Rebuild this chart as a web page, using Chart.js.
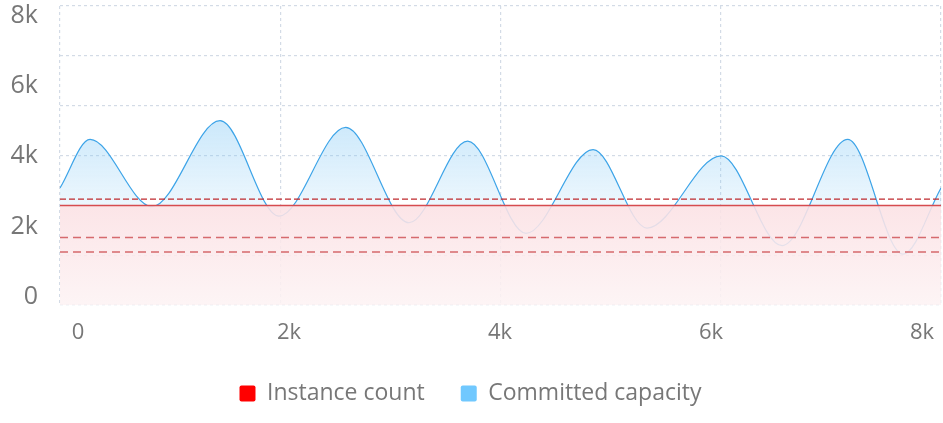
<!DOCTYPE html>
<html>
<head>
<meta charset="utf-8">
<script src="https://cdn.jsdelivr.net/npm/chart.js@4.4.1/dist/chart.umd.min.js"></script>
<style>
	html, body { margin: 0; padding: 0; background: #fff; }
	#wrap { width: 943px; height: 423px; position: relative; }
</style>
</head>
<body>
<div id="wrap"><canvas id="capacity-chart"></canvas></div>
<script>
//
// Data
//

var xValues = [-171, 114, 701, 1346, 1905, 2537, 3137, 3694, 4246, 4882, 5393, 6095, 6673, 7296, 7820, 8180];
var committedCapacity = [3100, 4480, 2570, 5010, 2300, 4820, 2110, 4430, 1810, 4190, 1960, 4010, 1460, 4480, 1220, 3100];
var instanceCount = [2600, 2600, 2600, 2600, 2600, 2600, 2600, 2600, 2600, 2600, 2600, 2600, 2600, 2600, 2600, 2600];
var thresholds = [2780, 1690, 1280];
var xTicks = [0, 2000, 4000, 6000, 8000];
var yTicks = [0, 2000, 4000, 6000, 8000];

var CapacityChart = (function() {

	//
	// Variables
	//

	var canvas = document.getElementById('capacity-chart');
	var xMin = -171, xMax = 8180;
	var yMin = -227, yMax = 8270;
	var font = { family: '"Open Sans", sans-serif', size: 23 };

	//
	// Methods
	//

	function points(values) {
		return values.map(function(v, i) { return { x: xValues[i], y: v }; });
	}

	function kLabel(v) {
		return v === 0 ? '0' : (v / 1000) + 'k';
	}

	// scales keep the chart area where we put it
	function fixBox(width, height) {
		return function(s) {
			if (width !== null) s.width = width;
			if (height !== null) s.height = height;
			s.paddingTop = s.paddingBottom = s.paddingLeft = s.paddingRight = 0;
		};
	}

	function capacityFill(context) {
		var chart = context.chart;
		if (!chart.chartArea) return 'rgba(130,200,245,0.3)';
		var y = chart.scales.y;
		var g = chart.ctx.createLinearGradient(0, y.getPixelForValue(5100), 0, y.getPixelForValue(2600));
		g.addColorStop(0, 'rgba(130,200,245,0.42)');
		g.addColorStop(1, 'rgba(130,200,245,0.15)');
		return g;
	}

	function instanceFill(context) {
		var chart = context.chart;
		var area = chart.chartArea;
		if (!area) return 'rgba(251,228,231,0.88)';
		var y = chart.scales.y;
		var g = chart.ctx.createLinearGradient(0, y.getPixelForValue(2600), 0, area.bottom);
		g.addColorStop(0, 'rgba(251,225,228,0.88)');
		g.addColorStop(1, 'rgba(253,243,244,0.88)');
		return g;
	}

	var thresholdStyles = [
		{ color: '#bf2a2e', dash: [6, 3], width: 1.2 },
		{ color: '#d66a6e', dash: [8, 5], width: 1.5 },
		{ color: '#d66a6e', dash: [8, 5], width: 1.5 }
	];

	var datasets = [{
		label: 'Instance count',
		legendColor: '#ff0000',
		data: points(instanceCount),
		borderColor: '#d64b4f',
		borderWidth: 1.3,
		backgroundColor: instanceFill,
		fill: 'start',
		pointRadius: 0,
		xAxisID: 'x',
		yAxisID: 'y',
		order: 1
	}, {
		label: 'Committed capacity',
		legendColor: '#70c8fe',
		data: points(committedCapacity),
		borderColor: '#3da4e8',
		borderWidth: 1.2,
		backgroundColor: capacityFill,
		fill: { target: 0, below: 'rgba(0,0,0,0)' },
		cubicInterpolationMode: 'monotone',
		pointRadius: 0,
		xAxisID: 'x',
		yAxisID: 'y',
		order: 2
	}];

	thresholds.forEach(function(t, i) {
		datasets.push({
			label: 'threshold ' + (i + 1),
			data: [{ x: xMin, y: t }, { x: xMax, y: t }],
			borderColor: thresholdStyles[i].color,
			borderDash: thresholdStyles[i].dash,
			borderWidth: thresholdStyles[i].width,
			fill: false,
			pointRadius: 0,
			xAxisID: 'x',
			yAxisID: 'y',
			order: 0
		});
	});

	// Init chart
	function initChart(canvas) {

		return new Chart(canvas, {
			type: 'line',
			data: { datasets: datasets },
			options: {
				responsive: true,
				maintainAspectRatio: false,
				animation: false,
				layout: { padding: { top: 6, right: 2, left: 0, bottom: 8 } },
				plugins: {
					tooltip: { enabled: false },
					legend: {
						position: 'bottom',
						labels: {
							color: '#777',
							font: font,
							boxWidth: 16,
							boxHeight: 16,
							padding: 36,
							useBorderRadius: true,
							borderRadius: 2,
							generateLabels: function(chart) {
								return chart.data.datasets.slice(0, 2).map(function(ds, i) {
									return {
										text: ds.label,
										fillStyle: ds.legendColor,
										strokeStyle: ds.legendColor,
										lineWidth: 0,
										borderRadius: 2,
										fontColor: '#777',
										datasetIndex: i
									};
								});
							}
						}
					}
				},
				scales: {
					x: {
						type: 'linear', position: 'bottom', min: xMin, max: xMax,
						afterBuildTicks: function(s) { s.ticks = xTicks.map(function(v) { return { value: v }; }); },
						ticks: { color: '#777', font: { family: font.family, size: 22 }, padding: 15, maxRotation: 0, callback: kLabel },
						grid: { display: false, drawTicks: false },
						border: { display: false },
						afterFit: fixBox(null, 41)
					},
					y: {
						type: 'linear', position: 'left', min: yMin, max: yMax,
						afterBuildTicks: function(s) { s.ticks = yTicks.map(function(v) { return { value: v }; }); },
						ticks: { color: '#777', font: { family: font.family, size: 25 }, padding: 22, callback: kLabel },
						grid: { display: false, drawTicks: false },
						border: { display: false },
						afterFit: fixBox(60, null)
					},
					xGrid: {
						type: 'linear', position: 'bottom', min: 0, max: 4,
						ticks: { display: false, stepSize: 1 },
						grid: { color: '#d3dbe6', lineWidth: 1.2, drawTicks: false },
						border: { display: false, dash: [3, 3] },
						afterFit: fixBox(null, 0)
					},
					yGrid: {
						type: 'linear', position: 'left', min: 0, max: 6,
						ticks: { display: false, stepSize: 1 },
						grid: { color: '#d3dbe6', lineWidth: 1.2, drawTicks: false },
						border: { display: false, dash: [3, 3] },
						afterFit: fixBox(0, null)
					}
				}
			}
		});
	}

	if (canvas) {
		initChart(canvas);
	}

})();
</script>
</body>
</html>
